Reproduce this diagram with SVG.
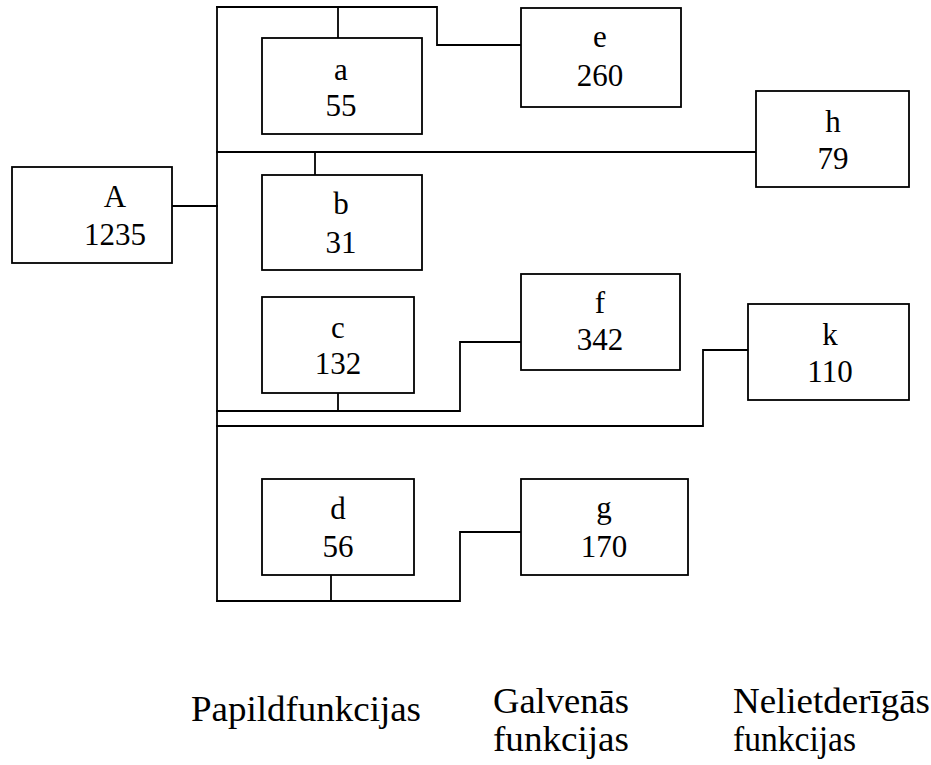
<svg xmlns="http://www.w3.org/2000/svg" width="931" height="765" viewBox="0 0 931 765">
  <style>
    .box { fill: #fff; stroke: #000; stroke-width: 1.8; }
    .wire { fill: none; stroke: #000; stroke-width: 1.8; stroke-linejoin: miter; stroke-linecap: square; }
    .lbl { font-size: 31px; text-anchor: middle; }
    .cap { font-size: 36px; }
  </style>
  <rect width="931" height="765" fill="#fff"/>

  <!-- connectors -->
  <g id="connectors" class="wire">
    <!-- main trunk -->
    <path d="M217 7 V601"/>
    <!-- A to trunk -->
    <path d="M172 206 H217"/>
    <!-- top branch: a and e -->
    <path d="M217 7 H437 V45 H521"/>
    <path d="M338 7 V38"/>
    <!-- branch to h, with b -->
    <path d="M217 152 H756"/>
    <path d="M315 152 V175"/>
    <!-- branch c to f -->
    <path d="M217 411 H460 V342 H521"/>
    <path d="M338 393 V411"/>
    <!-- branch to k -->
    <path d="M217 426 H703 V350 H748"/>
    <!-- branch d to g -->
    <path d="M217 601 H460 V532 H521"/>
    <path d="M331 575 V601"/>
  </g>

  <g font-family="Liberation Serif, Times New Roman, serif" fill="#000">
  <!-- nodes -->
  <g id="node-A">
    <rect class="box" x="12" y="167" width="160" height="96"/>
    <text class="lbl" x="115" y="207">A</text>
    <text class="lbl" x="115" y="245">1235</text>
  </g>
  <g id="node-a">
    <rect class="box" x="262" y="38" width="160" height="96"/>
    <text class="lbl" x="341" y="80">a</text>
    <text class="lbl" x="341" y="116">55</text>
  </g>
  <g id="node-b">
    <rect class="box" x="262" y="175" width="160" height="95"/>
    <text class="lbl" x="341" y="214">b</text>
    <text class="lbl" x="341" y="253">31</text>
  </g>
  <g id="node-c">
    <rect class="box" x="262" y="297" width="152" height="96"/>
    <text class="lbl" x="338" y="338">c</text>
    <text class="lbl" x="338" y="374">132</text>
  </g>
  <g id="node-d">
    <rect class="box" x="262" y="479" width="152" height="96"/>
    <text class="lbl" x="338" y="519">d</text>
    <text class="lbl" x="338" y="557">56</text>
  </g>
  <g id="node-e">
    <rect class="box" x="521" y="8" width="160" height="99"/>
    <text class="lbl" x="600" y="47">e</text>
    <text class="lbl" x="600" y="86">260</text>
  </g>
  <g id="node-f">
    <rect class="box" x="521" y="274" width="159" height="96"/>
    <text class="lbl" x="600" y="313">f</text>
    <text class="lbl" x="600" y="350">342</text>
  </g>
  <g id="node-g">
    <rect class="box" x="521" y="479" width="167" height="96"/>
    <text class="lbl" x="604" y="518">g</text>
    <text class="lbl" x="604" y="557">170</text>
  </g>
  <g id="node-h">
    <rect class="box" x="756" y="91" width="153" height="96"/>
    <text class="lbl" x="833" y="132">h</text>
    <text class="lbl" x="833" y="169">79</text>
  </g>
  <g id="node-k">
    <rect class="box" x="748" y="304" width="161" height="96"/>
    <text class="lbl" x="830" y="345">k</text>
    <text class="lbl" x="830" y="382">110</text>
  </g>

  <!-- column captions -->
  <g id="captions">
    <text class="cap" x="191" y="721" textLength="230" lengthAdjust="spacingAndGlyphs">Papildfunkcijas</text>
    <text class="cap" x="493" y="713" textLength="136" lengthAdjust="spacingAndGlyphs">Galvenās</text>
    <text class="cap" x="493" y="751" textLength="136" lengthAdjust="spacingAndGlyphs">funkcijas</text>
    <text class="cap" x="733" y="713" textLength="197" lengthAdjust="spacingAndGlyphs">Nelietderīgās</text>
    <text class="cap" x="733" y="751" textLength="123" lengthAdjust="spacingAndGlyphs">funkcijas</text>
  </g>
  </g>
</svg>
